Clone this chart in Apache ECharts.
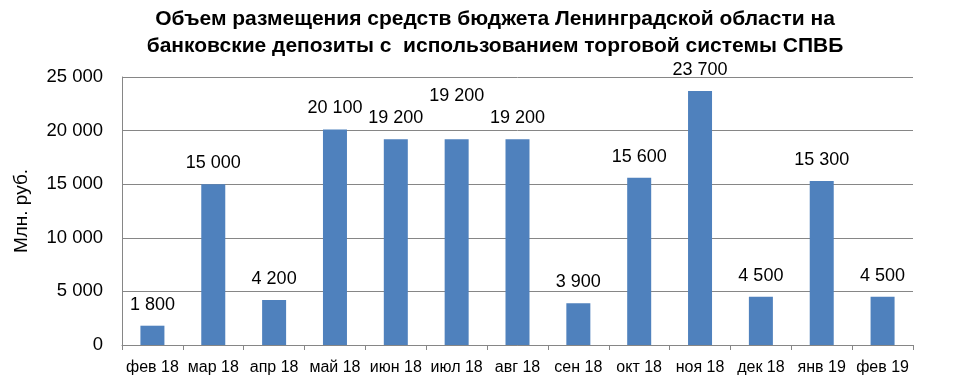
<!DOCTYPE html>
<html><head><meta charset="utf-8">
<script src="https://cdn.jsdelivr.net/npm/echarts@6/dist/echarts.min.js"></script>
<style>html,body{margin:0;padding:0;background:#fff}#c{width:973px;height:391px}</style>
</head><body><div id="c"></div>
<script>
var categories = ['фев 18','мар 18','апр 18','май 18','июн 18','июл 18','авг 18','сен 18','окт 18','ноя 18','дек 18','янв 19','фев 19'];
var values = [1800,15000,4200,20100,19200,19200,19200,3900,15600,23700,4500,15300,4500];
var titleText = 'Объем размещения средств бюджета Ленинградской области на\nбанковские депозиты с  использованием торговой системы СПВБ';
var yName = 'Млн. руб.';
// label of the July bar is raised in the original to avoid overlap
var raisedLabelIndex = 5;
function fmt(v){ return String(v).replace(/\B(?=(\d{3})+(?!\d))/g, ' '); }
var seriesData = values.map(function(v, i){
  var item = { value: v };
  if (i === raisedLabelIndex) item.label = { offset: [0, -22] };
  return item;
});
var chart = echarts.init(document.getElementById('c'));
chart.setOption({
  animation: false,
  title: {
    text: titleText, left: 490, top: 1, textAlign: 'center',
    textStyle: { fontFamily: 'Liberation Sans Narrow, Arial Narrow, Liberation Sans', fontWeight: 'bold', fontSize: 21, lineHeight: 27, color: '#000' }
  },
  grid: { left: 122, right: 60, top: 77, bottom: 46 },
  xAxis: {
    type: 'category', data: categories,
    axisLine: { lineStyle: { color: '#868686' } },
    axisTick: { show: true, length: 5, lineStyle: { color: '#868686' } },
    axisLabel: { interval: 0, color: '#000', fontFamily: 'Liberation Sans, Arial', fontSize: 16, margin: 15 }
  },
  yAxis: {
    type: 'value', min: 0, max: 25000, interval: 5000,
    name: yName, nameLocation: 'middle', nameGap: 91, nameRotate: 90,
    nameTextStyle: { color: '#000', fontFamily: 'Liberation Sans, Arial', fontSize: 19 },
    axisLine: { show: true, lineStyle: { color: '#868686' } },
    axisTick: { show: false },
    splitLine: { lineStyle: { color: '#868686' } },
    axisLabel: { color: '#000', fontFamily: 'Liberation Sans, Arial', fontSize: 18.5, margin: 19, formatter: fmt }
  },
  series: [{
    type: 'bar', data: seriesData, barWidth: 24,
    itemStyle: { color: '#4F81BD' },
    label: { show: true, position: 'top', distance: 12, color: '#000', fontFamily: 'Liberation Sans, Arial', fontSize: 18, formatter: function(p){ return fmt(p.value); } }
  }]
});
</script></body></html>
